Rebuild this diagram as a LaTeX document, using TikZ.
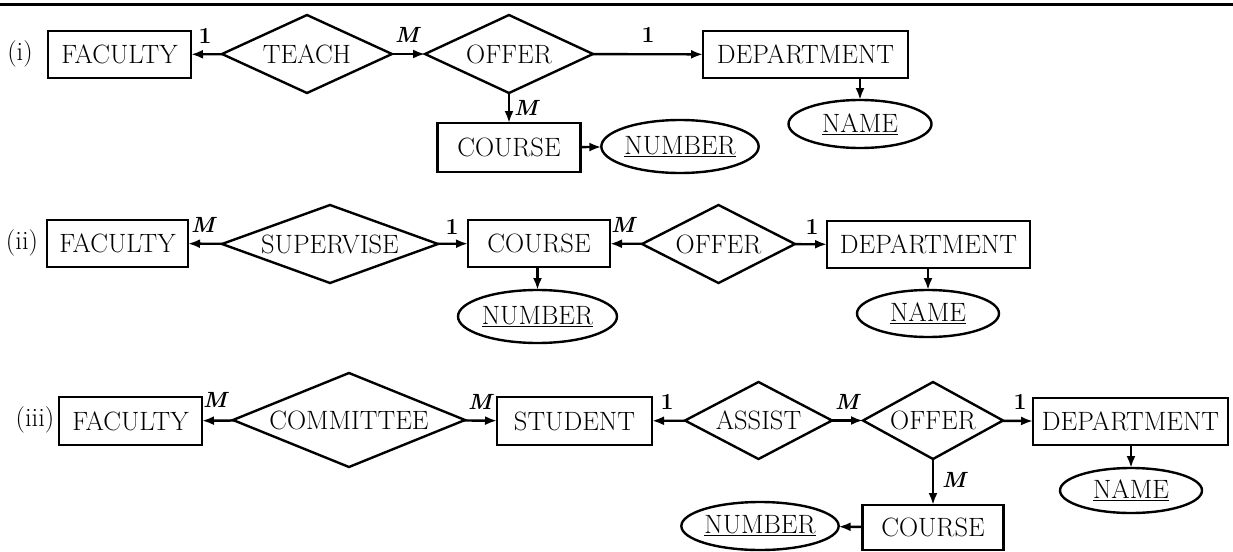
\documentclass[tikz,border=0pt]{standalone}
\usetikzlibrary{shapes.geometric,arrows.meta}
\begin{document}
\begin{tikzpicture}[x=1pt,y=-1pt,
  every node/.style={font=\fontsize{26.5}{30}\selectfont},
  ent/.style={draw,line width=2.4pt,rectangle,inner sep=0pt,outer sep=0pt},
  rel/.style={draw,line width=2.4pt,diamond,inner sep=0pt,outer sep=0pt},
  att/.style={draw,line width=2.4pt,ellipse,inner sep=0pt,outer sep=0pt},
  card/.style={font=\fontsize{23}{26}\selectfont\bfseries,inner sep=0pt},
  cardm/.style={font=\fontsize{22}{26}\selectfont\bfseries\itshape,inner sep=0pt},
  lbl/.style={inner sep=0pt},
  conn/.style={line width=2.4pt,-{Latex[length=12pt,width=9pt]}}]
\useasboundingbox (0,0) rectangle (1233,551);
\coordinate (ruleL) at (0,4.5);
\coordinate (ruleR) at (1233,4.5);
\draw[line width=3pt] (ruleL) -- (ruleR);

% ---------- row (i)
\node[lbl] (li) at (20,54) {(i)};
\node[ent,minimum width=143,minimum height=47] (fac1) at (119.5,54.5) {FACULTY};
\node[rel,aspect=2.18,minimum width=170,minimum height=78] (teach) at (307,54) {TEACH};
\node[rel,aspect=2.15,minimum width=168,minimum height=78] (offer1) at (509,54) {OFFER};
\node[ent,minimum width=205,minimum height=47] (dept1) at (805.5,54.5) {DEPARTMENT};
\node[ent,minimum width=143,minimum height=49] (course1) at (509,147.5) {COURSE};
\node[att,minimum width=156,minimum height=53] (num1) at (680,146.5) {\underline{NUMBER}};
\node[att,minimum width=143,minimum height=48] (name1) at (860,124) {\underline{NAME}};
\draw[conn] (teach) -- (fac1);
\draw[conn] (teach) -- (offer1);
\draw[conn] (offer1) -- (dept1);
\draw[conn] (offer1) -- (course1);
\draw[conn] (course1) -- (num1);
\draw[conn] (name1.north |- dept1.south) -- (name1.north);
\node[card] (c1a) at (205,36) {1};
\node[cardm] (c1b) at (407,35) {M};
\node[card] (c1c) at (648,35) {1};
\node[cardm] (c1d) at (526,108) {M};

% ---------- row (ii)
\node[lbl] (lii) at (22,243) {(ii)};
\node[ent,minimum width=141,minimum height=47] (fac2) at (117.5,243.5) {FACULTY};
\node[rel,aspect=2.77,minimum width=216,minimum height=78] (sup) at (330,244) {SUPERVISE};
\node[ent,minimum width=142,minimum height=47] (course2) at (539,243.5) {COURSE};
\node[rel,aspect=1.96,minimum width=153,minimum height=78] (offer2) at (718.5,244) {OFFER};
\node[ent,minimum width=203,minimum height=47] (dept2) at (928.5,244.5) {DEPARTMENT};
\node[att,minimum width=142,minimum height=47] (name2) at (928,313.5) {\underline{NAME}};
\node[att,minimum width=159,minimum height=53] (num2) at (537.5,316.5) {\underline{NUMBER}};
\draw[conn] (sup) -- (fac2);
\draw[conn] (sup) -- (course2);
\draw[conn] (offer2) -- (course2);
\draw[conn] (offer2) -- (dept2);
\draw[conn] (num2.north |- course2.south) -- (num2.north);
\draw[conn] (name2.north |- dept2.south) -- (name2.north);
\node[cardm] (c2a) at (203,225) {M};
\node[card] (c2b) at (452,227) {1};
\node[cardm] (c2c) at (623,225) {M};
\node[card] (c2d) at (812,227) {1};

% ---------- row (iii)
\node[lbl] (liii) at (35,420) {(iii)};
\node[ent,minimum width=143,minimum height=48] (fac3) at (130.5,421) {FACULTY};
\node[rel,aspect=2.47,minimum width=232,minimum height=94] (comm) at (349,420) {COMMITTEE};
\node[ent,minimum width=155,minimum height=48] (stud) at (574.5,421) {STUDENT};
\node[rel,aspect=1.9,minimum width=147,minimum height=77] (assist) at (758.5,420.5) {ASSIST};
\node[rel,aspect=1.82,minimum width=140,minimum height=77] (offer3) at (933,420.5) {OFFER};
\node[ent,minimum width=195,minimum height=47] (dept3) at (1130.5,421.5) {DEPARTMENT};
\node[att,minimum width=142,minimum height=45] (name3) at (1131,490.5) {\underline{NAME}};
\node[ent,minimum width=141,minimum height=45] (course3) at (933,527.5) {COURSE};
\node[att,minimum width=156,minimum height=48] (num3) at (760,526) {\underline{NUMBER}};
\draw[conn] (comm) -- (fac3);
\draw[conn] (comm) -- (stud);
\draw[conn] (assist) -- (stud);
\draw[conn] (assist) -- (offer3);
\draw[conn] (offer3) -- (dept3);
\draw[conn] (offer3) -- (course3);
\draw[conn] (course3) -- (num3);
\draw[conn] (name3.north |- dept3.south) -- (name3.north);
\node[cardm] (c3a) at (215,400) {M};
\node[cardm] (c3b) at (480,402) {M};
\node[card] (c3c) at (667,402) {1};
\node[cardm] (c3d) at (847,402) {M};
\node[card] (c3e) at (1020,402) {1};
\node[cardm] (c3f) at (954,480) {M};
\end{tikzpicture}
\end{document}
